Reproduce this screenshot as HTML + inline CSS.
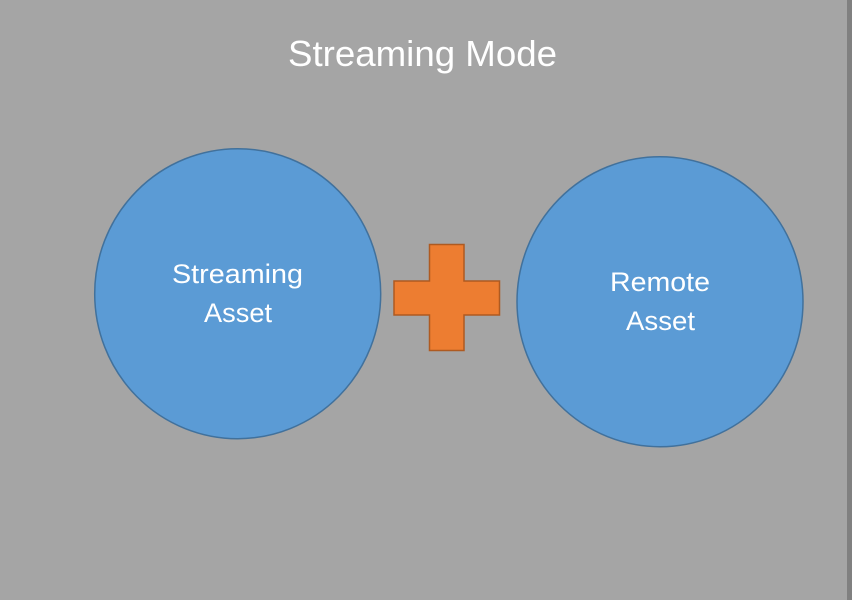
<!DOCTYPE html>
<html><head><meta charset="utf-8"><style>
html,body{margin:0;padding:0;background:#a5a5a5;}
svg{display:block;}
text{font-family:"Liberation Sans","DejaVu Sans",sans-serif;fill:#ffffff;}
</style></head><body>
<svg width="852" height="600" viewBox="0 0 852 600" xmlns="http://www.w3.org/2000/svg">
<rect x="0" y="0" width="852" height="600" fill="#a5a5a5"/>
<rect x="847" y="0" width="5" height="600" fill="#808080"/>
<text x="288" y="66" font-size="36" textLength="269" lengthAdjust="spacingAndGlyphs">Streaming Mode</text>
<ellipse cx="237.7" cy="293.7" rx="143" ry="145" fill="#5b9bd5" stroke="#41719c" stroke-width="1.5"/>
<ellipse cx="660" cy="301.7" rx="143" ry="145" fill="#5b9bd5" stroke="#41719c" stroke-width="1.5"/>
<path d="M429.5 244.5 H464 V281 H499.5 V315 H464 V350.5 H429.5 V315 H394 V281 H429.5 Z" fill="#ed7d31" stroke="#ae5a21" stroke-width="1.5"/>
<text x="172" y="283" font-size="27" textLength="131" lengthAdjust="spacingAndGlyphs">Streaming</text>
<text x="204" y="322" font-size="27" textLength="68" lengthAdjust="spacingAndGlyphs">Asset</text>
<text x="610" y="291" font-size="27" textLength="100" lengthAdjust="spacingAndGlyphs">Remote</text>
<text x="626" y="330" font-size="27" textLength="69" lengthAdjust="spacingAndGlyphs">Asset</text>
</svg>
</body></html>
